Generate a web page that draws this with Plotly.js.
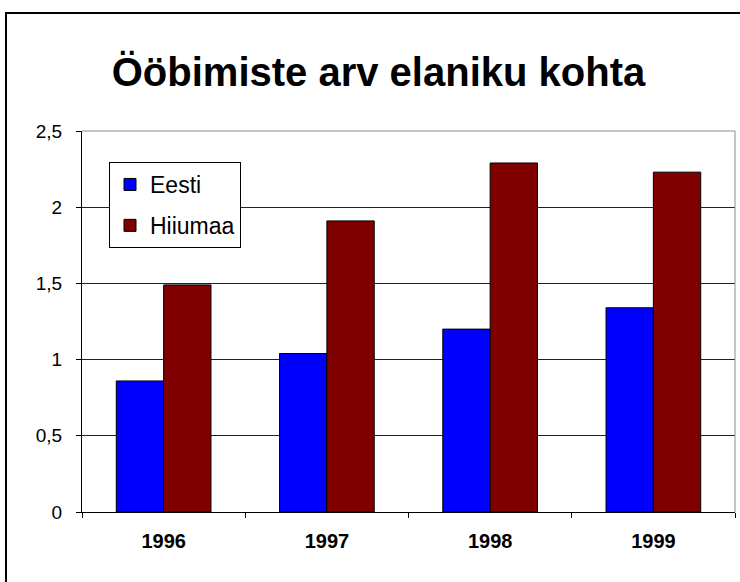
<!DOCTYPE html>
<html>
<head>
<meta charset="utf-8">
<script src="https://cdn.plot.ly/plotly-3.0.1.min.js"></script>
<style>html,body{margin:0;padding:0;background:#fff;}#chart{width:740px;height:582px;}</style>
</head>
<body>
<div id="chart"></div>
<script>
const years = ['1996', '1997', '1998', '1999'];
const eesti = [0.86, 1.04, 1.20, 1.34];
const hiiumaa = [1.49, 1.91, 2.29, 2.23];
const seriesNames = ['Eesti', 'Hiiumaa'];
const titleText = 'Ööbimiste arv elaniku kohta';

const FONT = 'Liberation Sans, Arial, sans-serif';
const W = 740, H = 582, ML = 82, MR = 5, MT = 131, MB = 70;
const PW = W - ML - MR, PH = H - MT - MB;
const px = x => (x - ML) / PW;
const py = y => (H - MB - y) / PH;

const traces = [
  {type: 'bar', name: seriesNames[0], x: years, y: eesti, legendgroup: 'a',
   marker: {color: '#0000ff', line: {color: '#000', width: 1}}},
  {type: 'bar', name: seriesNames[1], x: years, y: hiiumaa, legendgroup: 'b',
   marker: {color: '#800000', line: {color: '#000', width: 1}}}
];

const layout = {
  width: W, height: H,
  margin: {l: ML, r: MR, t: MT, b: MB, pad: 0},
  paper_bgcolor: '#fff', plot_bgcolor: '#fff',
  separators: ', ',
  font: {family: FONT, color: '#000'},
  title: {text: titleText, x: 378.5 / W, xanchor: 'center', y: 1 - 72 / H, yanchor: 'middle',
          font: {family: FONT, size: 40, weight: 'bold', color: '#000'}},
  barmode: 'group', bargap: 0.42, bargroupgap: 0,
  xaxis: {type: 'category', tickson: 'boundaries', ticks: 'outside', ticklen: 5, tickcolor: '#000',
          showline: true, linecolor: '#000', linewidth: 1, showgrid: false, zeroline: false,
          ticklabelstandoff: 11,
          tickfont: {family: FONT, size: 20, weight: 'bold', color: '#000'}, fixedrange: true},
  yaxis: {range: [0, 2.5], dtick: 0.5, tick0: 0, ticks: 'outside', ticklen: 5, tickcolor: '#000',
          showline: true, linecolor: '#000', linewidth: 1, showgrid: true, gridcolor: '#222', gridwidth: 1,
          zeroline: false, ticklabelstandoff: 10,
          tickfont: {family: FONT, size: 19, color: '#000'}, fixedrange: true},
  showlegend: true,
  legend: {x: px(109), y: py(162), xanchor: 'left', yanchor: 'top', bgcolor: '#fff',
           bordercolor: '#000', borderwidth: 1, font: {family: FONT, size: 23, color: '#000'},
           tracegroupgap: 8, traceorder: 'grouped'},
  shapes: [
    {type: 'line', xref: 'paper', yref: 'paper', x0: 0, x1: 1, y0: 1, y1: 1, line: {color: '#8c8c8c', width: 1}},
    {type: 'line', xref: 'paper', yref: 'paper', x0: 1, x1: 1, y0: 0, y1: 1, line: {color: '#8c8c8c', width: 1}},
    {type: 'line', xref: 'paper', yref: 'paper', x0: px(5), x1: px(760), y0: py(13), y1: py(13), line: {color: '#000', width: 2}},
    {type: 'line', xref: 'paper', yref: 'paper', x0: px(6), x1: px(6), y0: py(12), y1: py(600), line: {color: '#000', width: 2}}
  ]
};

Plotly.newPlot('chart', traces, layout, {displayModeBar: false, staticPlot: true});
</script>
</body>
</html>
